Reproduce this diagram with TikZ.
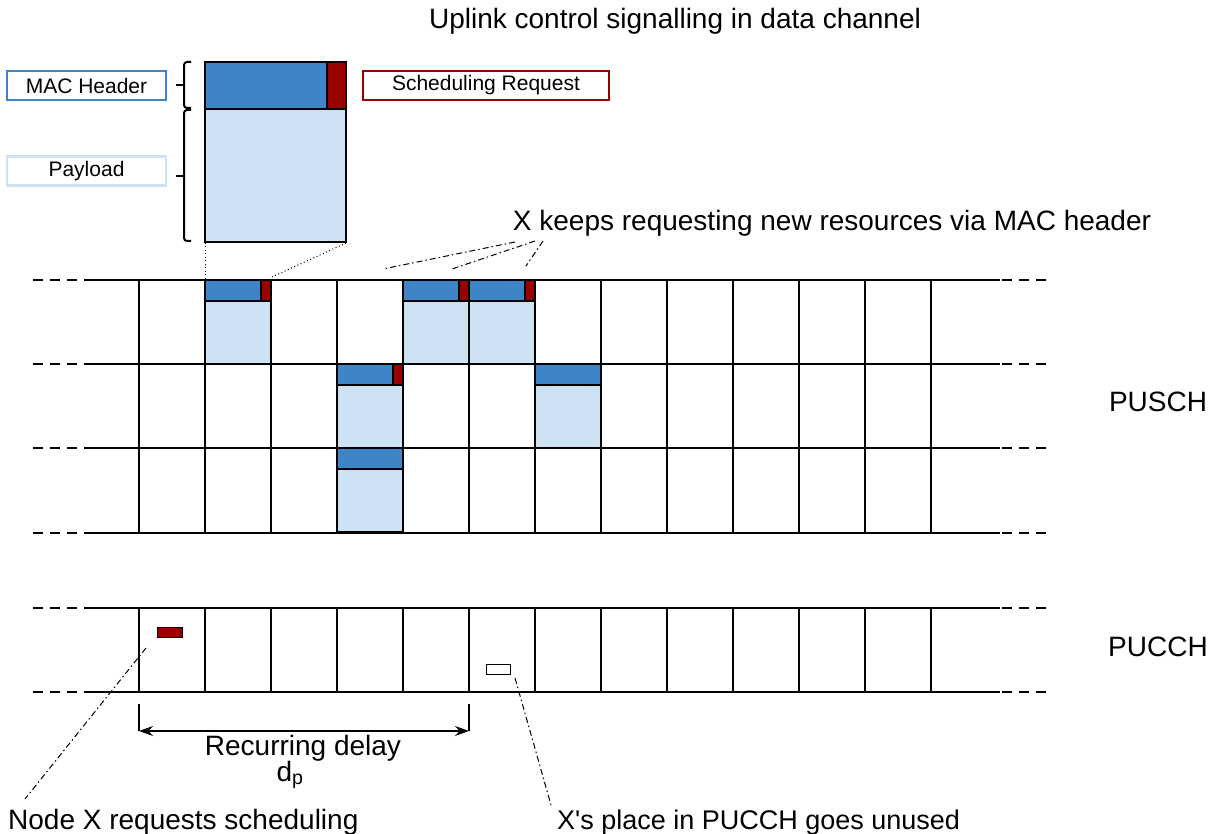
\documentclass[tikz,border=0pt]{standalone}
\usepackage{fontspec}
\setmainfont{Liberation Sans}
\usetikzlibrary{arrows.meta}
\definecolor{hdr}{HTML}{3D85C6}
\definecolor{pay}{HTML}{CFE2F3}
\definecolor{srq}{HTML}{990000}
\tikzset{
  grid/.style={line width=2pt, black},
  pktline/.style={line width=2pt, black},
  dashend/.style={line width=2pt, dash pattern=on 10pt off 7pt},
  leader/.style={line width=1pt, dash pattern=on 6pt off 3pt on 1.5pt off 3pt},
  dotleader/.style={line width=1pt, dash pattern=on 1pt off 2.5pt},
  bigtxt/.style={inner sep=0pt, anchor=base, font=\fontsize{28}{32}\selectfont},
  legbox/.style={draw, line width=2.2pt, minimum width=159pt, minimum height=29pt, inner sep=0pt, font=\fontsize{21}{24}\selectfont},
}
\newcommand\pktsr[2]{%
  \fill[pay] (#1,#2) rectangle ++(66,84);
  \fill[hdr] (#1,#2) rectangle ++(66,21);
  \fill[srq] (#1+56,#2) rectangle ++(10,21);
  \draw[pktline] (#1,#2) rectangle ++(66,84);
  \draw[pktline] (#1,#2+21) -- ++(66,0);
  \draw[pktline] (#1+56,#2) -- ++(0,21);}
\newcommand\pktno[2]{%
  \fill[pay] (#1,#2) rectangle ++(66,84);
  \fill[hdr] (#1,#2) rectangle ++(66,21);
  \draw[pktline] (#1,#2) rectangle ++(66,84);
  \draw[pktline] (#1,#2+21) -- ++(66,0);}
\begin{document}
\begin{tikzpicture}[x=1pt,y=-1pt]
\useasboundingbox (0,0) rectangle (1213,834);

% title
\node[bigtxt] (title) at (675,29) {Uplink control signalling in data channel};

% big packet
\fill[pay] (205,62) rectangle (346,242);
\fill[hdr] (205,62) rectangle (346,109);
\fill[srq] (327,62) rectangle (346,109);
\draw[pktline] (205,62) rectangle (346,242);
\draw[pktline] (205,109) -- (346,109);
\draw[pktline] (327,62) -- (327,109);

% braces
\draw[line width=2pt, rounded corners=3pt] (191,62) -- (184,62) -- (184,108) -- (191,108);
\draw[line width=2pt] (176,85) -- (184,85);
\draw[line width=2pt, rounded corners=3pt] (191,110) -- (184,110) -- (184,241) -- (191,241);
\draw[line width=2pt] (176,176) -- (184,176);

% legend boxes
\node[legbox, draw=hdr] (mac) at (86.5,85.5) {MAC Header};
\node[legbox, draw=pay] (payl) at (86.5,171) {Payload};
\node[legbox, draw=srq, minimum width=246pt] (sreq) at (486,85.5) {Scheduling Request};

% dotted zoom lines
\coordinate (bl) at (205,243);
\coordinate (br) at (346,243);
\coordinate (tl) at (205,279);
\coordinate (tr) at (272,277);
\draw[dotleader] (bl) -- (tl);
\draw[dotleader] (br) -- (tr);

% packets in PUSCH
\pktsr{205}{280}
\pktsr{403}{280}
\pktsr{469}{280}
\pktsr{337}{364}
\pktno{535}{364}
\pktno{337}{448}

% PUSCH grid
\foreach \y in {280,364,448,533} {
  \draw[grid] (84,\y) -- (1000,\y);
  \draw[dashend] (33,\y) -- (77,\y);
  \draw[dashend] (1002,\y) -- (1050,\y);
}
\foreach \x in {139,205,...,931} \draw[grid] (\x,280) -- (\x,533);

% PUCCH grid
\foreach \y in {608,692} {
  \draw[grid] (84,\y) -- (1000,\y);
  \draw[dashend] (33,\y) -- (77,\y);
  \draw[dashend] (1002,\y) -- (1050,\y);
}
\foreach \x in {139,205,...,931} \draw[grid] (\x,608) -- (\x,692);

% PUCCH small boxes
\draw[line width=1pt, fill=srq] (157,627) rectangle (182,637);
\draw[line width=1pt, fill=white] (486,664) rectangle (510,674);

% channel labels
\node[bigtxt] (pusch) at (1158,411) {PUSCH};
\node[bigtxt] (pucch) at (1158,656) {PUCCH};

% X keeps requesting
\node[bigtxt] (keeps) at (832,231) {X keeps requesting new resources via MAC header};
\coordinate (k1) at (515,242);
\coordinate (k2) at (535,241);
\coordinate (k3) at (543,241);
\coordinate (e1) at (383,269);
\coordinate (e2) at (452,269);
\coordinate (e3) at (526,266);
\draw[leader] (k1) -- (e1);
\draw[leader] (k2) -- (e2);
\draw[leader] (k3) -- (e3);

% recurring delay
\coordinate (d1t) at (139,704);
\coordinate (d1) at (139,731);
\coordinate (d2t) at (469,704);
\coordinate (d2) at (469,731);
\draw[line width=1.6pt] (d1t) -- (d1);
\draw[line width=1.6pt] (d2t) -- (d2);
\draw[line width=1.6pt, {Stealth[length=14pt,width=10pt]}-{Stealth[length=14pt,width=10pt]}] (d1) -- (d2);
\node[bigtxt] (rd) at (303,755) {Recurring delay};
\node[bigtxt] (dp) at (290,781) {d\textsubscript{p}};

% bottom labels
\node[bigtxt, anchor=base west] (nodex) at (8,829) {Node X requests scheduling};
\node[bigtxt, anchor=base west, font=\fontsize{27}{32}\selectfont] (xplace) at (557,829) {X\textquotesingle s place in PUCCH goes unused};
\coordinate (r1) at (146,648);
\coordinate (r2) at (25,799);
\coordinate (w1) at (515,678);
\coordinate (w2) at (551,805);
\draw[leader] (r1) -- (r2);
\draw[leader] (w1) -- (w2);
\end{tikzpicture}
\end{document}
